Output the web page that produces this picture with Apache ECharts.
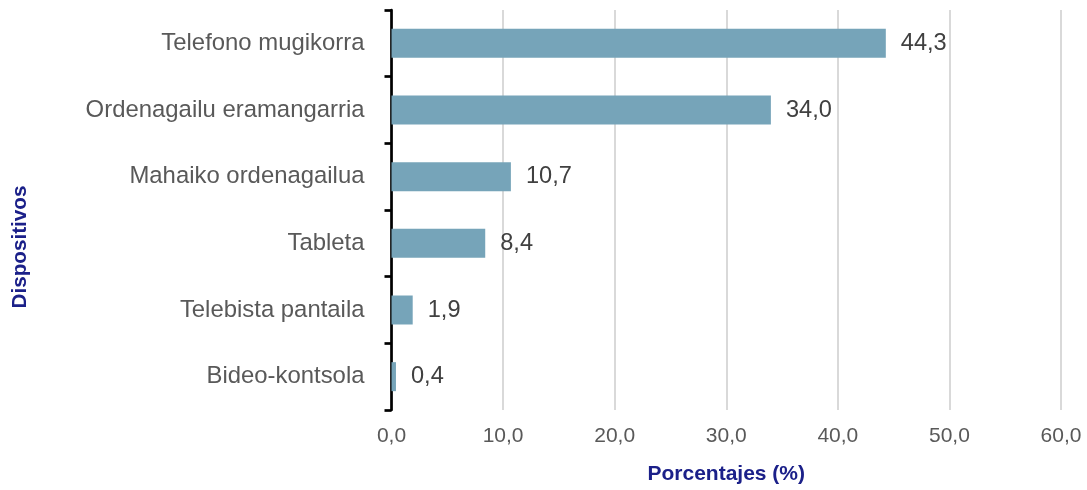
<!DOCTYPE html>
<html>
<head>
<meta charset="utf-8">
<script src="https://cdn.jsdelivr.net/npm/echarts@6/dist/echarts.min.js"></script>
<style>
  html, body { margin: 0; padding: 0; background: #ffffff; }
  #chart { width: 1087px; height: 490px; }
</style>
</head>
<body>
<div id="chart"></div>
<script>
const categories = ['Telefono mugikorra', 'Ordenagailu eramangarria', 'Mahaiko ordenagailua', 'Tableta', 'Telebista pantaila', 'Bideo-kontsola'];
const values = [44.3, 34.0, 10.7, 8.4, 1.9, 0.4];
const xTicks = [0, 10, 20, 30, 40, 50, 60];
const xAxisTitle = 'Porcentajes (%)';
const yAxisTitle = 'Dispositivos';

const FONT = 'Arial, "Liberation Sans", sans-serif';
const fmt = v => v.toFixed(1).replace('.', ',');

const chart = echarts.init(document.getElementById('chart'), null, { renderer: 'canvas' });
chart.setOption({
  animation: false,
  backgroundColor: '#ffffff',
  grid: { left: 391.5, right: 26, top: 10, bottom: 80, containLabel: false },
  xAxis: {
    type: 'value',
    min: xTicks[0],
    max: xTicks[xTicks.length - 1],
    interval: xTicks[1] - xTicks[0],
    name: xAxisTitle,
    nameLocation: 'middle',
    nameGap: 54,
    nameTextStyle: { color: '#1b2089', fontWeight: 'bold', fontSize: 21, fontFamily: FONT },
    axisLine: { show: false },
    axisTick: { show: false },
    axisLabel: { color: '#595959', fontSize: 21, fontFamily: FONT, margin: 16, formatter: v => fmt(v) },
    splitLine: { show: true, lineStyle: { color: '#d9d9d9', width: 2 } }
  },
  yAxis: {
    type: 'category',
    data: categories,
    inverse: true,
    axisLine: { show: true, lineStyle: { color: '#000000', width: 2.7 } },
    axisTick: { show: true, length: 7, interval: 0, lineStyle: { color: '#000000', width: 2.7 } },
    axisLabel: { color: '#595959', fontSize: 23.9, fontFamily: FONT, margin: 27 },
    splitLine: { show: false }
  },
  graphic: [{
    type: 'text',
    x: 20,
    y: 247,
    rotation: Math.PI / 2,
    style: {
      text: yAxisTitle,
      fill: '#1b2089',
      font: 'bold 20.7px ' + FONT,
      align: 'center',
      verticalAlign: 'middle'
    }
  }],
  series: [{
    type: 'bar',
    data: values,
    barWidth: 29,
    itemStyle: { color: '#76a4b9' },
    label: {
      show: true,
      position: 'right',
      distance: 15,
      color: '#404040',
      fontSize: 23.6,
      fontFamily: FONT,
      formatter: p => fmt(p.value)
    }
  }]
});
</script>
</body>
</html>
